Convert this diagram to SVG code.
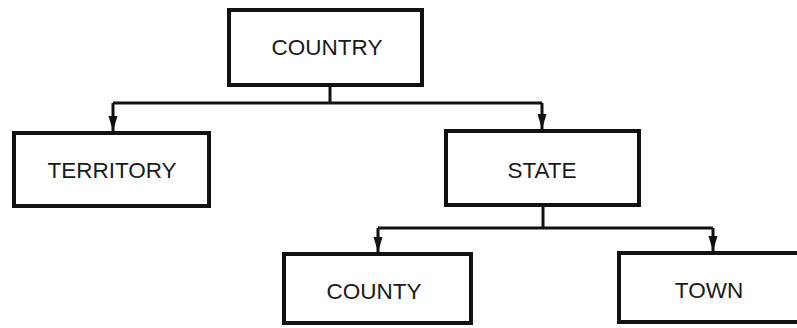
<svg xmlns="http://www.w3.org/2000/svg" width="797" height="328" viewBox="0 0 797 328">
  <style>
    .box { fill: #ffffff; stroke: #111111; stroke-width: 4; }
    .label { font-family: "Liberation Sans", Arial, Helvetica, sans-serif; font-size: 22.5px; fill: #1a1a1a; text-anchor: middle; }
    .wire { fill: none; stroke: #111111; stroke-width: 3; }
  </style>
  <defs>
    <!-- narrow filled arrowhead, tip on the line end -->
    <marker id="arrow" viewBox="0 0 15 10" refX="15" refY="5" markerWidth="15" markerHeight="10" markerUnits="userSpaceOnUse" orient="auto">
      <path d="M0,0.5 L15,5 L0,9.5 Z" fill="#111111"/>
    </marker>
  </defs>
  <rect width="797" height="328" fill="#ffffff"/>

  <g id="connectors">
    <!-- COUNTRY to its children -->
    <path class="wire" d="M330,87 V103"/>
    <path class="wire" d="M113,103 H542"/>
    <path class="wire" d="M113,103 V131" marker-end="url(#arrow)"/>
    <path class="wire" d="M542,103 V129" marker-end="url(#arrow)"/>
    <!-- STATE to its children -->
    <path class="wire" d="M543,207 V228"/>
    <path class="wire" d="M378,228 H713"/>
    <path class="wire" d="M378,228 V252" marker-end="url(#arrow)"/>
    <path class="wire" d="M713,228 V251" marker-end="url(#arrow)"/>
  </g>

  <g id="country">
    <rect class="box" x="229" y="10" width="193" height="75"/>
    <text class="label" x="327" y="55">COUNTRY</text>
  </g>
  <g id="territory">
    <rect class="box" x="14" y="133" width="195" height="73"/>
    <text class="label" x="112" y="178">TERRITORY</text>
  </g>
  <g id="state">
    <rect class="box" x="446" y="131" width="193" height="74"/>
    <text class="label" x="542" y="178">STATE</text>
  </g>
  <g id="county">
    <rect class="box" x="284" y="254" width="187" height="69"/>
    <text class="label" x="374" y="299">COUNTY</text>
  </g>
  <g id="town">
    <rect class="box" x="619" y="253" width="190" height="69"/>
    <text class="label" x="709" y="298">TOWN</text>
  </g>
</svg>
